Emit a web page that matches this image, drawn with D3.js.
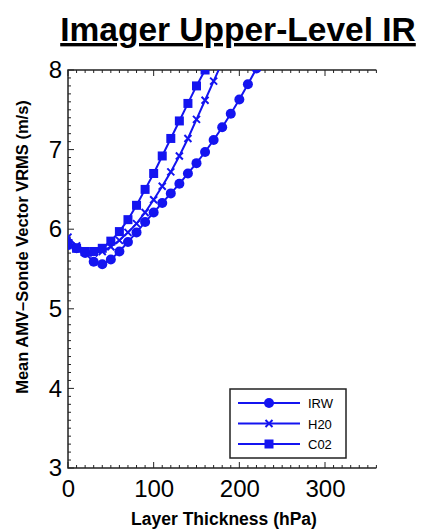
<!DOCTYPE html>
<html>
<head>
<meta charset="utf-8">
<script src="https://cdn.jsdelivr.net/npm/d3@7"></script>
<style>
  body { margin: 0; background: #fff; }
  text { font-family: "Liberation Sans", Arial, sans-serif; }
</style>
</head>
<body>
<div id="chart"></div>
<script>
// layer thickness (hPa)
var thickness = [0, 10, 20, 30, 40, 50, 60, 70, 80, 90, 100, 110, 120, 130, 140, 150, 160, 170, 180, 190, 200, 210, 220];
// mean vector VRMS (m/s)
var irw = [5.80, 5.76, 5.70, 5.59, 5.56, 5.62, 5.72, 5.84, 5.96, 6.09, 6.21, 6.33, 6.45, 6.57, 6.70, 6.83, 6.97, 7.12, 7.28, 7.45, 7.63, 7.82, 8.02];
var h20 = [5.90, 5.79, 5.72, 5.70, 5.72, 5.78, 5.86, 5.96, 6.07, 6.21, 6.37, 6.54, 6.72, 6.92, 7.14, 7.38, 7.62, 7.86, 8.10];
var c02 = [5.82, 5.76, 5.72, 5.72, 5.76, 5.85, 5.97, 6.12, 6.30, 6.50, 6.70, 6.92, 7.14, 7.36, 7.58, 7.80, 8.00, 8.20];
var xTicks = [0, 100, 200, 300];
var yTicks = [3, 4, 5, 6, 7, 8];
var seriesNames = ["IRW", "H20", "C02"];
var markers = ["circle", "cross", "square"];

var W = 426, H = 529;
var blue = "#1414f0";
var xMax = 360;   // frame runs past 300, right side is cut off

var svg = d3.select("#chart").append("svg")
  .attr("width", W).attr("height", H);

var x = d3.scaleLinear().domain([0, 300]).range([68, 325]);
var y = d3.scaleLinear().domain([3, 8]).range([468, 70]);
var x0 = x(0), x1 = x(xMax), yTop = y(8), yBot = y(3);

// title
svg.append("text")
  .attr("x", 238).attr("y", 41)
  .attr("text-anchor", "middle")
  .attr("font-size", 33.5).attr("font-weight", "bold")
  .attr("text-decoration", "underline")
  .text("Imager Upper-Level IR");

// clip for curves
svg.append("clipPath").attr("id", "plotclip")
  .append("rect").attr("x", x0).attr("y", yTop).attr("width", x1 - x0).attr("height", yBot - yTop);

// minor / major ticks, inside
var tickG = svg.append("g").attr("stroke", "#222").attr("stroke-width", 1);
d3.range(0, xMax + 1, 10).forEach(function (v) {
  var len = v % 100 === 0 ? 6 : 3;
  tickG.append("line").attr("x1", x(v)).attr("x2", x(v)).attr("y1", yBot).attr("y2", yBot - len);
  tickG.append("line").attr("x1", x(v)).attr("x2", x(v)).attr("y1", yTop).attr("y2", yTop + len);
});
d3.range(30, 81, 1).forEach(function (k) {
  var v = k / 10;
  var len = k % 10 === 0 ? 6 : 3;
  tickG.append("line").attr("x1", x0).attr("x2", x0 + len).attr("y1", y(v)).attr("y2", y(v));
});

// frame: left, top, bottom
svg.append("path")
  .attr("d", "M" + x1 + "," + yTop + "H" + x0 + "V" + yBot + "H" + x1)
  .attr("fill", "none").attr("stroke", "#222").attr("stroke-width", 1.5);

// tick labels via d3 axes
var xAxis = svg.append("g").attr("transform", "translate(0," + yBot + ")")
  .call(d3.axisBottom(x).tickValues(xTicks).tickFormat(d3.format("d")).tickSize(0).tickPadding(12));
xAxis.select(".domain").remove();
xAxis.selectAll("text").attr("font-size", 24).attr("fill", "#000")
  .style("font-family", "'Liberation Sans', Arial, sans-serif");

var yAxis = svg.append("g").attr("transform", "translate(" + x0 + ",0)")
  .call(d3.axisLeft(y).tickValues(yTicks).tickFormat(d3.format("d")).tickSize(0).tickPadding(6));
yAxis.select(".domain").remove();
yAxis.selectAll("text").attr("font-size", 24).attr("fill", "#000")
  .style("font-family", "'Liberation Sans', Arial, sans-serif");

svg.append("text")
  .attr("x", 224).attr("y", 525)
  .attr("text-anchor", "middle")
  .attr("font-size", 17.5).attr("font-weight", "bold")
  .text("Layer Thickness (hPa)");

svg.append("text")
  .attr("transform", "translate(28,247) rotate(-90)")
  .attr("text-anchor", "middle")
  .attr("font-size", 16.5).attr("font-weight", "bold")
  .text("Mean AMV\u2013Sonde Vector VRMS (m/s)");

function drawMarker(g, type, cx, cy) {
  if (type === "circle") {
    g.append("circle").attr("cx", cx).attr("cy", cy).attr("r", 5).attr("fill", blue);
  } else if (type === "square") {
    g.append("rect").attr("x", cx - 4.5).attr("y", cy - 4.5).attr("width", 9).attr("height", 9).attr("fill", blue);
  } else {
    g.append("path")
      .attr("d", "M" + (cx - 3.5) + "," + (cy - 3.5) + "L" + (cx + 3.5) + "," + (cy + 3.5) +
        "M" + (cx - 3.5) + "," + (cy + 3.5) + "L" + (cx + 3.5) + "," + (cy - 3.5))
      .attr("stroke", blue).attr("stroke-width", 2);
  }
}

var allSeries = [irw, h20, c02];
var line = d3.line().x(function (d) { return x(d[0]); }).y(function (d) { return y(d[1]); });

var plot = svg.append("g").attr("clip-path", "url(#plotclip)");
allSeries.forEach(function (vals, i) {
  var pts = vals.map(function (v, j) { return [thickness[j], v]; });
  plot.append("path").datum(pts)
    .attr("d", line).attr("fill", "none")
    .attr("stroke", blue).attr("stroke-width", 2);
  var mg = plot.append("g");
  pts.forEach(function (p) {
    if (p[1] <= 8.03) drawMarker(mg, markers[i], x(p[0]), y(p[1]));
  });
});

// legend
var lg = svg.append("g");
lg.append("rect")
  .attr("x", 230).attr("y", 389).attr("width", 116).attr("height", 69)
  .attr("fill", "#fff").attr("stroke", "#222").attr("stroke-width", 1.5);
seriesNames.forEach(function (name, i) {
  var ry = 403 + i * 20.5;
  lg.append("line").attr("x1", 238).attr("x2", 300).attr("y1", ry).attr("y2", ry)
    .attr("stroke", blue).attr("stroke-width", 2);
  drawMarker(lg, markers[i], 269, ry);
  lg.append("text").attr("x", 308).attr("y", ry + 5)
    .attr("font-size", 13).text(name);
});
</script>
</body>
</html>
